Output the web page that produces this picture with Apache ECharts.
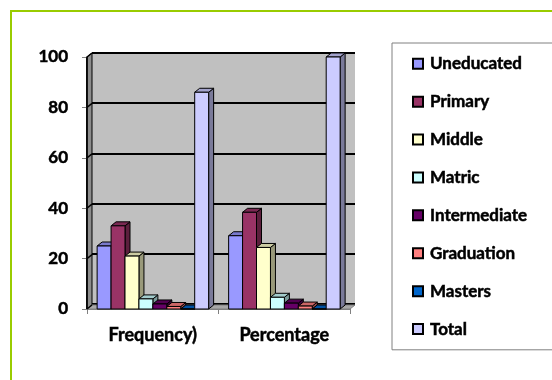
<!DOCTYPE html>
<html>
<head>
<meta charset="utf-8">
<script src="https://cdn.jsdelivr.net/npm/echarts@6/dist/echarts.min.js"></script>
<style>html,body{margin:0;padding:0;background:#fff;}#c{width:552px;height:380px;}</style>
</head>
<body>
<div id="c"></div>
<script>
// ---- data ----
const categories = ['Frequency)', 'Percentage'];
const seriesNames = ['Uneducated', 'Primary', 'Middle', 'Matric', 'Intermediate', 'Graduation', 'Masters', 'Total'];
const frequency = [25, 33, 21, 4, 2, 1, 0, 86];
const percentage = [29.07, 38.37, 24.42, 4.65, 2.33, 1.16, 0, 100];
const yTicks = [0, 20, 40, 60, 80, 100];

// ---- style ----
const colors = ['#9999FF', '#993366', '#FFFFCC', '#CCFFFF', '#660066', '#FF8080', '#0066CC', '#CCCCFF'];
const DX = 5, DY = 4;
const FONT = 'Lato';
const WEIGHT = 'bold';
const TXT = { color: '#000', fontFamily: FONT, fontWeight: WEIGHT, textBorderColor: '#000', textBorderWidth: 0.5 };

function shade(hex, f) {
  const n = parseInt(hex.slice(1), 16);
  const r = Math.round(((n >> 16) & 255) * f), g = Math.round(((n >> 8) & 255) * f), b = Math.round((n & 255) * f);
  return 'rgb(' + r + ',' + g + ',' + b + ')';
}

function makeBarRender(i, color) {
  const side = shade(color, 0.6), top = shade(color, 0.8);
  return function (params, api) {
    const cat = api.value(0), v = api.value(1);
    const pT = api.coord([cat, v]), pB = api.coord([cat, 0]);
    const band = api.size([1, 0])[0];
    const w = band * 0.106;
    const x0 = pT[0] - band / 2 + band * 0.077 + i * w;
    const x1 = x0 + w;
    const yT = pT[1], yB = pB[1];
    const st = { stroke: '#000', lineWidth: 1 };
    return {
      type: 'group', children: [
        { type: 'polygon', shape: { points: [[x1, yB], [x1 + DX, yB - DY], [x1 + DX, yT - DY], [x1, yT]] }, style: Object.assign({ fill: side }, st) },
        { type: 'polygon', shape: { points: [[x0, yT], [x0 + DX, yT - DY], [x1 + DX, yT - DY], [x1, yT]] }, style: Object.assign({ fill: top }, st) },
        { type: 'rect', shape: { x: x0, y: yT, width: w, height: yB - yT }, style: Object.assign({ fill: color }, st) }
      ]
    };
  };
}

function wallRender(params, api) {
  const band = api.size([1, 0])[0];
  const left = api.coord([0, 0])[0] - band / 2;
  const right = api.coord([categories.length - 1, 0])[0] + band / 2;
  const y0 = api.coord([0, 0])[1], y100 = api.coord([0, yTicks[yTicks.length - 1]])[1];
  const ch = [
    { type: 'polygon', shape: { points: [[left, y100], [left + DX, y100 - DY], [left + DX, y0 - DY], [left, y0]] }, style: { fill: '#8c8c8c', stroke: '#000', lineWidth: 1 } },
    { type: 'polygon', shape: { points: [[left, y0], [left + DX, y0 - DY], [right + DX, y0 - DY], [right, y0]] }, style: { fill: '#a8a8a8', stroke: '#808080', lineWidth: 1 } }
  ];
  yTicks.forEach(t => {
    const y = api.coord([0, t])[1];
    ch.push({ type: 'line', shape: { x1: left, y1: y, x2: left + DX, y2: y - DY }, style: { stroke: '#000', lineWidth: 1.5 } });
  });
  ch.push({ type: 'line', shape: { x1: left, y1: y100, x2: left, y2: y0 }, style: { stroke: '#000', lineWidth: 1.5 } });
  return { type: 'group', children: ch };
}

const series = [{
  type: 'custom', name: '_wall', xAxisIndex: 0, yAxisIndex: 0, z: 1, silent: true,
  data: [[0, 0]], encode: { x: 0, y: 1 }, renderItem: wallRender
}];
seriesNames.forEach((name, i) => {
  series.push({
    type: 'custom', name: name, xAxisIndex: 0, yAxisIndex: 0, z: 2,
    itemStyle: { color: colors[i] },
    encode: { x: 0, y: 1 },
    data: [[0, frequency[i]], [1, percentage[i]]],
    renderItem: makeBarRender(i, colors[i])
  });
});

const chart = echarts.init(document.getElementById('c'), null, { renderer: 'canvas' });
chart.setOption({
  animation: false,
  backgroundColor: '#fff',
  textStyle: { fontFamily: FONT },
  graphic: [{
    type: 'rect', z: 100, silent: true,
    shape: { x: 11, y: 11, width: 600, height: 374 },
    style: { fill: 'none', stroke: '#99cc00', lineWidth: 2 }
  }],
  grid: [
    { left: 87, right: 202, top: 57, bottom: 71 },
    { left: 92, right: 197, top: 53, bottom: 76, show: true, backgroundColor: '#c0c0c0', borderWidth: 0 }
  ],
  xAxis: [
    {
      type: 'category', gridIndex: 0, data: categories,
      axisLine: { show: true, lineStyle: { color: '#808080', width: 1 } },
      axisTick: { show: true, length: 5, lineStyle: { color: '#808080' } },
      axisLabel: Object.assign({ margin: 17, fontSize: 18 }, TXT),
      splitLine: { show: false }
    },
    { type: 'category', gridIndex: 1, data: categories, show: false }
  ],
  yAxis: [
    {
      type: 'value', gridIndex: 0, min: 0, max: 100, interval: 20,
      axisLine: { show: true, lineStyle: { color: '#000', width: 1.5 } },
      axisTick: { show: true, length: 5, lineStyle: { color: '#808080' } },
      axisLabel: Object.assign({ margin: 19, fontSize: 17 }, TXT),
      splitLine: { show: false }
    },
    {
      type: 'value', gridIndex: 1, min: 0, max: 100, interval: 20,
      axisLine: { show: false }, axisTick: { show: false }, axisLabel: { show: false },
      splitLine: { show: true, lineStyle: { color: '#000', width: 2 } }
    }
  ],
  legend: {
    data: seriesNames, orient: 'vertical', left: 392, top: 43,
    padding: [12, 40, 12, 20], itemGap: 20.4, itemWidth: 10, itemHeight: 10,
    borderColor: '#808080', borderWidth: 1, icon: 'rect',
    itemStyle: { borderColor: '#000', borderWidth: 2 },
    textStyle: Object.assign({ fontSize: 17, padding: [0, 0, 0, 2] }, TXT)
  },
  series: series
});
</script>
</body>
</html>
